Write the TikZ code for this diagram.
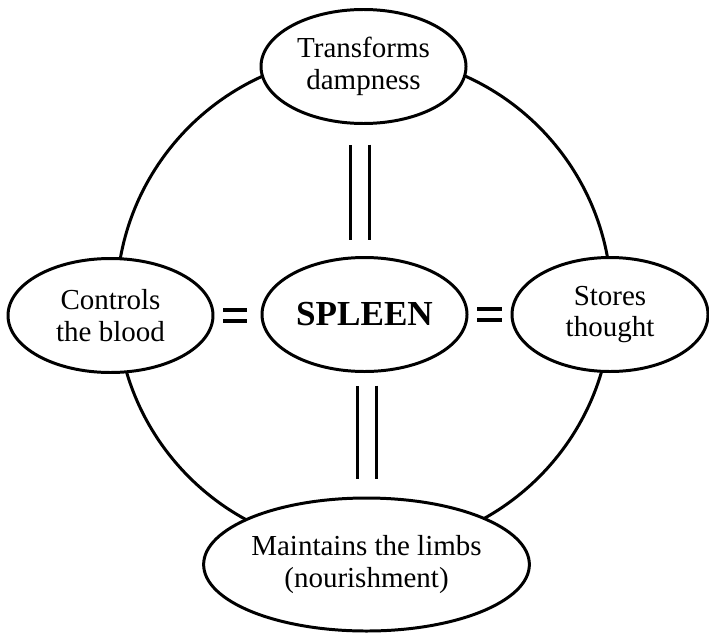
\documentclass[tikz,border=0pt]{standalone}
\usepackage{fontspec}
\setmainfont{Liberation Serif}
\usetikzlibrary{shapes.geometric}
\begin{document}
\begin{tikzpicture}[organ/.style={draw,ellipse,fill=white,line width=1.7pt,inner sep=0pt,outer sep=0pt,
    minimum width=4.1cm,minimum height=2.28cm,align=center,font=\fontsize{16.5}{18}\selectfont},
  vlink/.style={draw,double,line width=0.06cm,double distance=0.32cm},
  hlink/.style={draw,double,line width=0.08cm,double distance=0.15cm}]
\useasboundingbox (0,0) rectangle (14.18,12.66);
\draw[line width=1.7pt] (7.28,6.62) circle (4.95);
\node[organ] (top) at (7.27,11.33) {Transforms\\dampness};
\node[organ] (blood) at (2.21,6.35) {Controls\\the blood};
\node[organ,font=\bfseries\fontsize{20}{24}\selectfont] (spleen) at (7.29,6.37) {SPLEEN};
\node[organ,minimum width=3.92cm] (thought) at (12.2,6.37) {Stores\\thought};
\node[organ,minimum width=4.9cm,minimum height=2.66cm] (limbs) at (7.33,1.37) {Maintains the limbs\\(nourishment)};
\draw[vlink,shorten <=0.42cm,shorten >=0.36cm] ([xshift=-0.07cm]top.south) -- ([xshift=-0.07cm]top.south |- spleen.north);
\draw[vlink,shorten <=0.28cm,shorten >=0.38cm] (limbs.north |- spleen.south) -- (limbs.north);
\draw[hlink,shorten <=0.2cm,shorten >=0.3cm] (blood.east) -- (blood.east -| spleen.west);
\draw[hlink,shorten <=0.2cm,shorten >=0.2cm] (spleen.east) -- (spleen.east -| thought.west);
\end{tikzpicture}
\end{document}
